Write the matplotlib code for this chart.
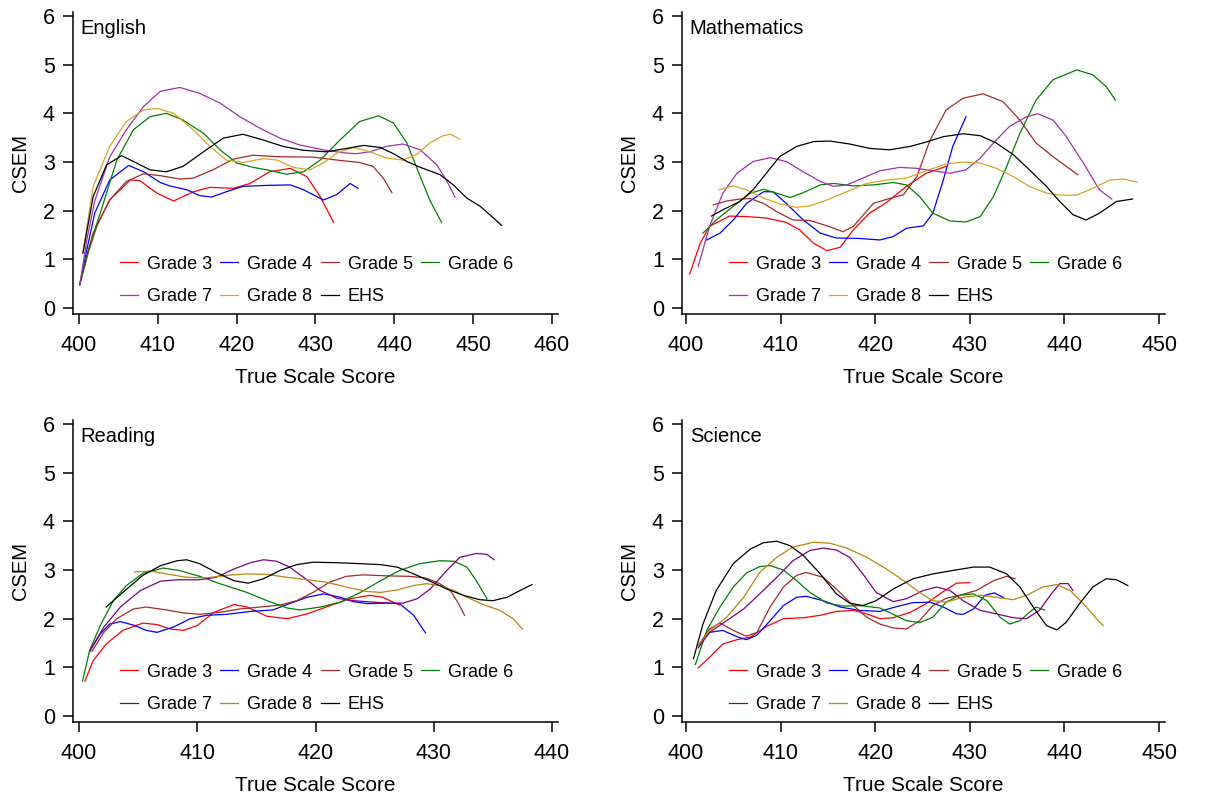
import matplotlib
matplotlib.use("Agg")
import matplotlib.pyplot as plt

plt.rcParams.update(
    {
        "font.family": ["Liberation Sans", "DejaVu Sans"],
        "axes.spines.top": False,
        "axes.spines.right": False,
        "axes.linewidth": 1.1,
    }
)

GRADES = ["Grade 3", "Grade 4", "Grade 5", "Grade 6", "Grade 7", "Grade 8", "EHS"]
TOP_COLORS = ["#ff0000", "#0000ff", "#a52a2a", "#008000", "#a030b0", "#daa520", "#000000"]
BOTTOM_COLORS = ["#ff0000", "#0000ff", "#a52a2a", "#008000", "#800080", "#b8860b", "#000000"]
Y_TICKS = [0, 1, 2, 3, 4, 5, 6]
# legend fills column by column, this order gives rows "3 4 5 6" / "7 8 EHS"
LEGEND_ORDER = [0, 4, 1, 5, 2, 6, 3]

# ---- English ----
ENG_G3_X = [400.1, 401.0, 401.8, 403.9, 406.5, 407.7, 409.9, 412.0, 414.5, 416.6, 419.6, 421.7, 424.2, 426.8, 428.9, 430.6, 432.3]
ENG_G3_Y = [0.48, 1.06, 1.54, 2.22, 2.63, 2.62, 2.36, 2.20, 2.39, 2.48, 2.46, 2.56, 2.80, 2.87, 2.70, 2.29, 1.76]
ENG_G4_X = [400.1, 401.0, 402.0, 403.9, 406.3, 408.2, 410.3, 411.5, 413.7, 415.3, 416.8, 418.7, 420.8, 423.8, 426.8, 428.5, 431.0, 432.7, 434.4, 435.4]
ENG_G4_Y = [0.48, 1.20, 1.95, 2.63, 2.93, 2.80, 2.58, 2.51, 2.43, 2.31, 2.28, 2.39, 2.50, 2.52, 2.53, 2.43, 2.22, 2.33, 2.56, 2.46]
ENG_G5_X = [400.2, 401.2, 402.3, 403.9, 406.0, 408.2, 410.3, 412.8, 414.5, 417.0, 419.6, 422.1, 425.1, 429.7, 432.7, 435.6, 437.3, 438.6, 439.7]
ENG_G5_Y = [0.55, 1.15, 1.70, 2.22, 2.60, 2.76, 2.72, 2.65, 2.67, 2.84, 3.06, 3.14, 3.11, 3.10, 3.04, 2.99, 2.91, 2.67, 2.37]
ENG_G6_X = [400.1, 401.2, 402.7, 404.8, 406.9, 409.0, 411.1, 413.2, 415.8, 417.9, 420.0, 422.1, 423.8, 426.3, 428.5, 430.6, 433.1, 435.6, 438.0, 439.9, 441.6, 443.3, 444.5, 446.0]
ENG_G6_Y = [0.48, 1.20, 1.95, 3.04, 3.66, 3.93, 4.00, 3.86, 3.59, 3.25, 2.98, 2.89, 2.84, 2.75, 2.80, 3.04, 3.45, 3.83, 3.95, 3.80, 3.39, 2.70, 2.22, 1.76]
ENG_G7_X = [400.1, 401.0, 402.0, 403.9, 406.0, 408.2, 410.3, 412.8, 415.3, 417.9, 420.4, 423.0, 425.5, 428.0, 431.0, 433.5, 435.2, 436.9, 439.0, 441.1, 443.3, 445.4, 446.6, 447.7]
ENG_G7_Y = [0.48, 1.40, 2.20, 3.10, 3.66, 4.14, 4.45, 4.53, 4.41, 4.21, 3.93, 3.69, 3.49, 3.35, 3.25, 3.19, 3.17, 3.21, 3.32, 3.37, 3.25, 2.94, 2.63, 2.28]
ENG_G8_X = [400.5, 401.8, 403.9, 406.0, 408.2, 409.9, 412.0, 414.5, 416.6, 418.7, 420.8, 423.4, 425.1, 427.2, 429.3, 431.0, 432.7, 434.8, 436.9, 439.0, 441.1, 442.8, 444.5, 446.2, 447.1, 448.3]
ENG_G8_Y = [1.13, 2.50, 3.32, 3.83, 4.07, 4.10, 4.00, 3.66, 3.32, 3.04, 2.99, 3.07, 3.04, 2.89, 2.84, 2.98, 3.18, 3.30, 3.21, 3.08, 3.04, 3.15, 3.39, 3.54, 3.57, 3.47]
ENG_EHS_X = [400.5, 401.8, 403.5, 405.4, 407.3, 409.0, 411.1, 413.2, 415.8, 418.3, 420.8, 423.4, 425.9, 428.5, 431.4, 434.0, 436.1, 438.2, 439.9, 441.6, 443.3, 445.8, 447.5, 449.2, 450.9, 452.1, 453.6]
ENG_EHS_Y = [1.13, 2.29, 2.94, 3.13, 2.98, 2.84, 2.80, 2.91, 3.21, 3.49, 3.57, 3.45, 3.32, 3.24, 3.21, 3.28, 3.34, 3.30, 3.17, 3.01, 2.89, 2.74, 2.53, 2.26, 2.09, 1.92, 1.70]

# ---- Mathematics ----
MATH_G3_X = [400.4, 401.5, 402.5, 404.6, 406.4, 408.5, 410.6, 412.0, 413.5, 414.9, 416.3, 417.7, 419.4, 421.2, 423.3, 425.4, 427.5]
MATH_G3_Y = [0.70, 1.33, 1.68, 1.89, 1.88, 1.85, 1.76, 1.61, 1.33, 1.18, 1.25, 1.61, 1.95, 2.17, 2.50, 2.77, 2.91]
MATH_G4_X = [402.2, 403.6, 405.0, 406.4, 408.2, 409.2, 410.6, 412.4, 414.2, 415.9, 418.4, 420.5, 421.9, 423.3, 425.1, 426.1, 427.2, 428.2, 429.6]
MATH_G4_Y = [1.40, 1.54, 1.81, 2.15, 2.39, 2.39, 2.15, 1.81, 1.54, 1.44, 1.43, 1.40, 1.47, 1.64, 1.69, 1.95, 2.63, 3.32, 3.93]
MATH_G5_X = [402.9, 404.3, 405.7, 406.8, 408.2, 409.6, 411.3, 413.1, 414.9, 416.6, 417.7, 419.8, 421.5, 423.0, 424.4, 425.8, 427.5, 429.3, 431.4, 433.5, 435.3, 437.0, 438.8, 440.2, 441.4]
MATH_G5_Y = [2.12, 2.20, 2.24, 2.25, 2.15, 1.98, 1.81, 1.80, 1.69, 1.57, 1.68, 2.15, 2.25, 2.33, 2.70, 3.45, 4.07, 4.31, 4.40, 4.24, 3.86, 3.39, 3.11, 2.91, 2.74]
MATH_G6_X = [401.8, 403.2, 405.0, 406.8, 408.2, 409.6, 411.0, 412.4, 414.2, 415.6, 417.7, 419.8, 421.9, 423.3, 424.7, 426.1, 427.9, 429.6, 431.1, 432.5, 433.9, 435.3, 437.0, 438.8, 441.3, 443.0, 444.4, 445.4]
MATH_G6_Y = [1.54, 1.81, 2.09, 2.36, 2.44, 2.36, 2.27, 2.37, 2.53, 2.56, 2.51, 2.53, 2.58, 2.53, 2.29, 1.95, 1.79, 1.77, 1.88, 2.29, 2.91, 3.59, 4.27, 4.69, 4.89, 4.79, 4.55, 4.27]
MATH_G7_X = [401.3, 402.5, 403.9, 405.4, 407.1, 408.9, 410.6, 412.4, 414.2, 415.6, 417.0, 418.7, 420.5, 422.6, 424.4, 426.1, 427.9, 429.6, 431.1, 432.5, 434.2, 436.0, 437.2, 438.8, 440.2, 442.0, 443.7, 445.0]
MATH_G7_Y = [0.86, 1.68, 2.36, 2.77, 3.01, 3.09, 3.01, 2.80, 2.60, 2.50, 2.53, 2.67, 2.82, 2.89, 2.87, 2.82, 2.77, 2.84, 3.08, 3.39, 3.73, 3.93, 3.99, 3.86, 3.52, 2.98, 2.43, 2.24]
MATH_G8_X = [403.5, 405.0, 406.4, 408.2, 409.9, 411.7, 413.1, 414.9, 417.0, 419.1, 421.2, 423.3, 425.4, 427.5, 429.3, 431.1, 432.8, 434.6, 436.3, 438.1, 439.5, 441.3, 443.0, 444.8, 446.2, 447.7]
MATH_G8_Y = [2.43, 2.51, 2.43, 2.26, 2.14, 2.07, 2.10, 2.22, 2.39, 2.56, 2.63, 2.67, 2.82, 2.96, 3.00, 2.98, 2.87, 2.70, 2.50, 2.36, 2.32, 2.32, 2.46, 2.63, 2.65, 2.59]
MATH_EHS_X = [402.7, 403.9, 405.7, 407.1, 408.5, 409.9, 411.7, 413.5, 415.2, 417.3, 419.4, 421.5, 423.7, 425.4, 427.2, 429.3, 431.1, 432.8, 434.6, 436.3, 438.1, 439.5, 440.9, 442.3, 443.7, 445.5, 447.2]
MATH_EHS_Y = [1.89, 2.02, 2.19, 2.43, 2.77, 3.11, 3.32, 3.42, 3.43, 3.37, 3.28, 3.25, 3.32, 3.41, 3.52, 3.58, 3.54, 3.39, 3.15, 2.84, 2.50, 2.19, 1.92, 1.81, 1.95, 2.19, 2.24]

# ---- Reading ----
READ_G3_X = [400.5, 401.2, 402.3, 403.7, 405.4, 406.6, 407.7, 408.8, 410.0, 411.4, 413.1, 414.2, 415.9, 417.6, 419.3, 420.9, 422.9, 424.6, 425.7, 427.1]
READ_G3_Y = [0.72, 1.14, 1.48, 1.76, 1.91, 1.88, 1.79, 1.76, 1.86, 2.13, 2.29, 2.24, 2.05, 2.00, 2.10, 2.24, 2.41, 2.48, 2.44, 2.28]
READ_G4_X = [400.9, 401.8, 402.6, 403.5, 404.6, 405.7, 406.6, 408.0, 409.4, 410.8, 412.5, 414.5, 416.4, 417.8, 419.3, 420.7, 422.1, 423.2, 424.4, 426.0, 427.1, 428.3, 429.3]
READ_G4_Y = [1.33, 1.69, 1.89, 1.94, 1.87, 1.76, 1.72, 1.83, 2.00, 2.07, 2.09, 2.15, 2.18, 2.31, 2.44, 2.51, 2.44, 2.35, 2.31, 2.32, 2.31, 2.07, 1.71]
READ_G5_X = [401.1, 402.1, 403.2, 404.6, 405.7, 407.4, 408.8, 410.2, 411.9, 413.6, 415.3, 417.0, 418.4, 419.8, 421.2, 422.6, 424.0, 426.0, 428.0, 429.4, 430.5, 431.4, 432.1, 432.6]
READ_G5_Y = [1.33, 1.72, 2.00, 2.20, 2.24, 2.18, 2.12, 2.09, 2.13, 2.20, 2.24, 2.28, 2.37, 2.54, 2.75, 2.87, 2.90, 2.88, 2.87, 2.83, 2.72, 2.58, 2.31, 2.07]
READ_G6_X = [400.3, 400.9, 401.8, 402.9, 404.0, 405.4, 407.1, 408.5, 410.2, 411.9, 414.2, 415.9, 417.6, 418.7, 420.4, 422.1, 423.8, 425.5, 427.1, 428.8, 430.5, 431.7, 432.8, 433.6, 434.5]
READ_G6_Y = [0.72, 1.35, 1.86, 2.37, 2.68, 2.93, 3.04, 2.99, 2.87, 2.72, 2.54, 2.37, 2.22, 2.18, 2.24, 2.34, 2.54, 2.78, 2.99, 3.13, 3.19, 3.18, 3.06, 2.78, 2.41]
READ_G7_X = [400.9, 402.1, 403.5, 405.2, 406.9, 408.3, 410.2, 411.6, 413.1, 414.5, 415.6, 416.7, 417.8, 419.0, 420.4, 421.8, 423.2, 424.9, 426.3, 427.4, 428.6, 429.7, 431.1, 432.2, 433.6, 434.5, 435.1]
READ_G7_Y = [1.33, 1.83, 2.24, 2.58, 2.77, 2.80, 2.80, 2.85, 3.02, 3.15, 3.21, 3.18, 3.06, 2.85, 2.58, 2.42, 2.37, 2.34, 2.32, 2.32, 2.41, 2.61, 2.99, 3.26, 3.34, 3.32, 3.21]
READ_G8_X = [404.7, 406.0, 407.4, 409.1, 410.8, 412.5, 414.2, 415.9, 417.6, 419.3, 420.9, 422.6, 424.3, 425.5, 426.9, 428.3, 429.4, 430.5, 431.7, 432.8, 434.2, 435.6, 436.7, 437.5]
READ_G8_Y = [2.96, 2.98, 2.92, 2.85, 2.84, 2.89, 2.92, 2.91, 2.85, 2.80, 2.75, 2.65, 2.56, 2.54, 2.59, 2.68, 2.72, 2.68, 2.58, 2.44, 2.29, 2.17, 2.00, 1.79]
READ_EHS_X = [402.3, 403.7, 405.4, 406.9, 408.3, 409.1, 410.2, 411.6, 413.1, 414.3, 415.6, 417.0, 418.4, 419.8, 421.8, 423.8, 425.5, 426.9, 428.3, 429.7, 431.1, 432.5, 433.9, 435.0, 436.2, 437.3, 438.3]
READ_EHS_Y = [2.24, 2.54, 2.89, 3.09, 3.19, 3.21, 3.13, 2.95, 2.78, 2.73, 2.82, 2.99, 3.11, 3.16, 3.15, 3.13, 3.11, 3.06, 2.92, 2.77, 2.61, 2.48, 2.39, 2.37, 2.44, 2.58, 2.70]

# ---- Science ----
SCI_G3_X = [401.3, 402.5, 403.9, 405.4, 406.8, 408.5, 410.3, 412.4, 414.2, 415.9, 417.7, 419.1, 420.5, 421.9, 423.7, 425.4, 427.2, 428.6, 430.0]
SCI_G3_Y = [0.99, 1.21, 1.48, 1.57, 1.62, 1.84, 2.00, 2.02, 2.07, 2.15, 2.17, 2.10, 2.00, 2.02, 2.13, 2.31, 2.56, 2.73, 2.74]
SCI_G4_X = [401.3, 402.5, 403.9, 405.4, 406.4, 407.5, 408.9, 410.3, 411.7, 412.7, 414.5, 416.3, 418.4, 420.5, 422.3, 424.0, 425.8, 427.2, 428.6, 429.3, 430.4, 431.6, 432.6, 433.6]
SCI_G4_Y = [1.45, 1.72, 1.76, 1.63, 1.57, 1.66, 1.96, 2.27, 2.44, 2.46, 2.37, 2.24, 2.17, 2.15, 2.25, 2.33, 2.34, 2.24, 2.10, 2.09, 2.20, 2.48, 2.53, 2.43]
SCI_G5_X = [401.3, 402.5, 403.6, 405.0, 406.4, 407.5, 408.9, 410.3, 411.7, 412.7, 414.5, 415.9, 417.3, 419.1, 420.5, 421.9, 423.3, 424.7, 426.1, 427.5, 428.9, 430.7, 432.5, 433.9, 434.8]
SCI_G5_Y = [1.45, 1.79, 1.91, 1.76, 1.64, 1.72, 2.24, 2.65, 2.89, 2.95, 2.85, 2.61, 2.34, 2.03, 1.89, 1.81, 1.79, 1.96, 2.27, 2.42, 2.48, 2.58, 2.78, 2.87, 2.82]
SCI_G6_X = [401.0, 402.2, 403.6, 405.0, 406.4, 407.8, 408.9, 410.3, 411.7, 413.1, 414.9, 416.6, 418.4, 420.5, 421.9, 423.3, 424.7, 426.1, 427.5, 428.9, 430.4, 431.8, 433.2, 434.2, 435.3, 436.3, 437.0, 437.9]
SCI_G6_Y = [1.06, 1.76, 2.24, 2.65, 2.94, 3.07, 3.09, 3.00, 2.78, 2.54, 2.32, 2.26, 2.27, 2.22, 2.09, 1.96, 1.92, 2.03, 2.34, 2.48, 2.51, 2.37, 2.03, 1.89, 1.96, 2.13, 2.24, 2.18]
SCI_G7_X = [401.3, 402.5, 404.3, 406.1, 407.8, 409.6, 411.3, 413.1, 414.5, 415.9, 417.3, 418.7, 420.1, 421.9, 423.3, 425.1, 426.5, 427.9, 429.3, 431.1, 432.8, 434.6, 436.0, 437.4, 438.5, 439.5, 440.4, 440.9]
SCI_G7_Y = [1.40, 1.72, 1.96, 2.20, 2.51, 2.85, 3.19, 3.40, 3.45, 3.41, 3.26, 2.92, 2.54, 2.35, 2.41, 2.58, 2.65, 2.58, 2.37, 2.17, 2.10, 2.02, 2.00, 2.18, 2.48, 2.72, 2.72, 2.58]
SCI_G8_X = [401.3, 402.5, 404.3, 406.1, 407.8, 409.6, 411.3, 413.5, 415.2, 417.0, 419.1, 421.2, 423.0, 424.7, 426.1, 427.5, 429.3, 431.1, 432.8, 434.6, 436.0, 437.7, 439.2, 440.6, 442.0, 443.4, 444.1]
SCI_G8_Y = [1.45, 1.76, 2.03, 2.44, 2.95, 3.26, 3.47, 3.57, 3.55, 3.45, 3.26, 3.02, 2.78, 2.54, 2.37, 2.34, 2.44, 2.48, 2.44, 2.39, 2.48, 2.65, 2.70, 2.58, 2.31, 2.00, 1.86]
SCI_EHS_X = [400.8, 401.8, 403.2, 405.0, 406.8, 408.2, 409.6, 411.0, 412.4, 414.2, 415.9, 417.3, 418.7, 420.1, 421.9, 424.0, 426.1, 428.2, 430.4, 432.1, 433.9, 435.3, 436.7, 438.1, 439.2, 440.2, 441.6, 443.0, 444.4, 445.5, 446.7]
SCI_EHS_Y = [1.18, 1.89, 2.58, 3.13, 3.43, 3.56, 3.59, 3.50, 3.30, 2.92, 2.51, 2.32, 2.27, 2.37, 2.61, 2.82, 2.92, 2.99, 3.06, 3.06, 2.92, 2.65, 2.24, 1.86, 1.77, 1.93, 2.31, 2.65, 2.82, 2.80, 2.68]

PANELS = [
    ("English", [0.0603, 0.606, 0.4008, 0.379], (399.24, 460.76), range(400, 461, 10), TOP_COLORS,
     [(ENG_G3_X, ENG_G3_Y), (ENG_G4_X, ENG_G4_Y), (ENG_G5_X, ENG_G5_Y), (ENG_G6_X, ENG_G6_Y),
      (ENG_G7_X, ENG_G7_Y), (ENG_G8_X, ENG_G8_Y), (ENG_EHS_X, ENG_EHS_Y)]),
    ("Mathematics", [0.5636, 0.606, 0.3992, 0.379], (399.58, 450.63), range(400, 451, 10), TOP_COLORS,
     [(MATH_G3_X, MATH_G3_Y), (MATH_G4_X, MATH_G4_Y), (MATH_G5_X, MATH_G5_Y), (MATH_G6_X, MATH_G6_Y),
      (MATH_G7_X, MATH_G7_Y), (MATH_G8_X, MATH_G8_Y), (MATH_EHS_X, MATH_EHS_Y)]),
    ("Reading", [0.0603, 0.0941, 0.4008, 0.379], (399.49, 440.5), range(400, 441, 10), BOTTOM_COLORS,
     [(READ_G3_X, READ_G3_Y), (READ_G4_X, READ_G4_Y), (READ_G5_X, READ_G5_Y), (READ_G6_X, READ_G6_Y),
      (READ_G7_X, READ_G7_Y), (READ_G8_X, READ_G8_Y), (READ_EHS_X, READ_EHS_Y)]),
    ("Science", [0.5636, 0.0941, 0.3992, 0.379], (399.58, 450.63), range(400, 451, 10), BOTTOM_COLORS,
     [(SCI_G3_X, SCI_G3_Y), (SCI_G4_X, SCI_G4_Y), (SCI_G5_X, SCI_G5_Y), (SCI_G6_X, SCI_G6_Y),
      (SCI_G7_X, SCI_G7_Y), (SCI_G8_X, SCI_G8_Y), (SCI_EHS_X, SCI_EHS_Y)]),
]


def draw_panel(fig, title, rect, xlim, xticks, colors, series):
    ax = fig.add_axes(rect)
    lines = []
    for (xs, ys), label, color in zip(series, GRADES, colors):
        (line,) = ax.plot(xs, ys, color=color, lw=0.9, label=label)
        lines.append(line)
    ax.set_xlim(*xlim)
    ax.set_ylim(-0.12, 6.08)
    ax.set_xticks(list(xticks))
    ax.set_yticks(Y_TICKS)
    ax.tick_params(direction="out", length=7, width=1.1, labelsize=15.5, pad=6)
    ax.tick_params(axis="x", pad=8)
    ax.set_xlabel("True Scale Score", fontsize=15, labelpad=9)
    ax.set_ylabel("CSEM", fontsize=14.5, labelpad=9)
    ax.text(0.016, 0.945, title, transform=ax.transAxes, fontsize=14.5, va="center", ha="left")
    ax.legend(
        [lines[i] for i in LEGEND_ORDER],
        [GRADES[i] for i in LEGEND_ORDER],
        loc="lower left",
        bbox_to_anchor=(0.097, 0.03),
        ncol=4,
        frameon=False,
        fontsize=13,
        handlelength=1.0,
        handletextpad=0.5,
        columnspacing=0.45,
        labelspacing=0.85,
        borderpad=0,
        borderaxespad=0,
    )
    return ax


fig = plt.figure(figsize=(12.1, 7.97), dpi=100)
for title, rect, xlim, xticks, colors, series in PANELS:
    draw_panel(fig, title, rect, xlim, xticks, colors, series)

fig.savefig("out.png", dpi=100)
